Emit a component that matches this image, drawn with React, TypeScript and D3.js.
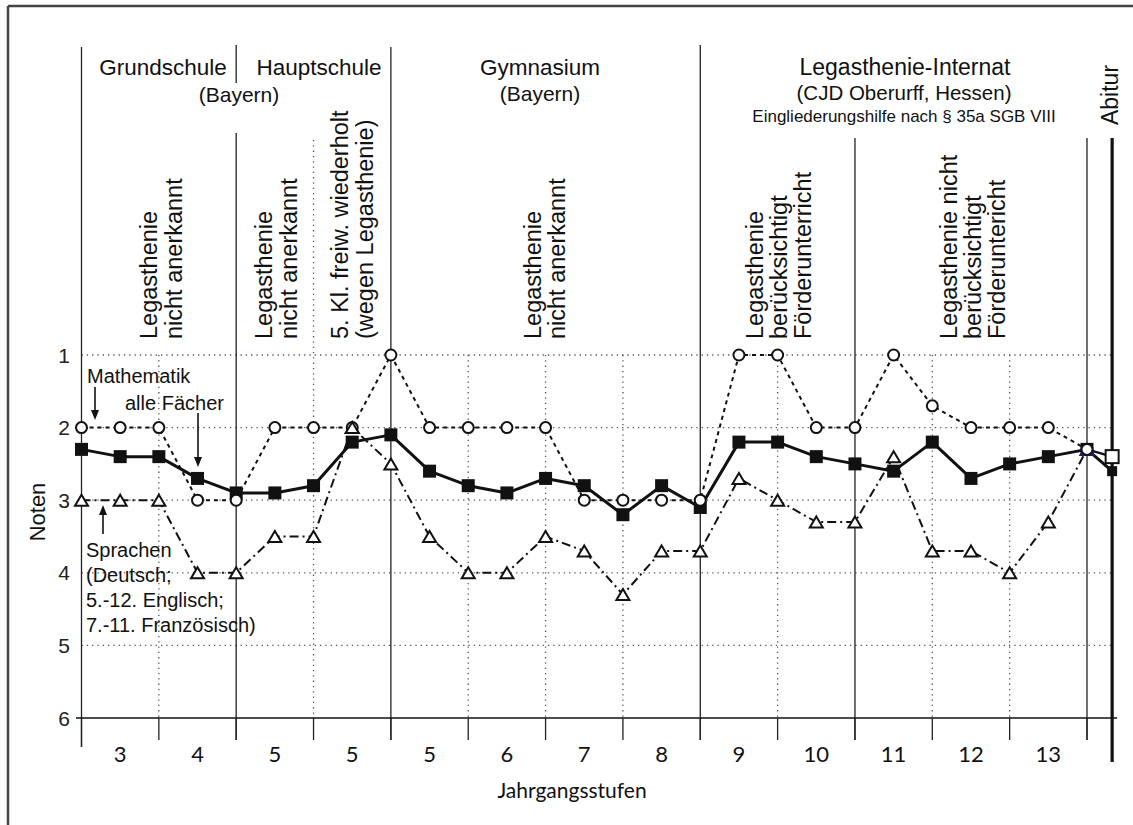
import React from "react";
import * as d3 from "d3";

// ---------- data ----------
const gradeLabels = ["3", "4", "5", "5", "5", "6", "7", "8", "9", "10", "11", "12", "13"];
const yTicks = [1, 2, 3, 4, 5, 6];
// half-year values (27 points, index 0..26)
const alleFaecher = [2.3, 2.4, 2.4, 2.7, 2.9, 2.9, 2.8, 2.2, 2.1, 2.6, 2.8, 2.9, 2.7, 2.8, 3.2, 2.8, 3.1, 2.2, 2.2, 2.4, 2.5, 2.6, 2.2, 2.7, 2.5, 2.4, 2.3];
const mathematik = [2, 2, 2, 3, 3, 2, 2, 2, 1, 2, 2, 2, 2, 3, 3, 3, 3, 1, 1, 2, 2, 1, 1.7, 2, 2, 2, 2.3];
const sprachen = [3, 3, 3, 4, 4, 3.5, 3.5, 2, 2.5, 3.5, 4, 4, 3.5, 3.7, 4.3, 3.7, 3.7, 2.7, 3, 3.3, 3.3, 2.4, 3.7, 3.7, 4, 3.3, 2.3];
const abiturAlle = 2.6;
const abiturMathe = 2.4;
const abiturPos = 26.65;
const dottedBounds = [2, 6, 10, 12, 14, 18, 22, 24];
const tickBounds = d3.range(0, 27, 2);

const W = 1133, H = 825;
const FONT = "'Liberation Sans', Arial, Helvetica, sans-serif";
const GFONT = "Lato, 'Open Sans', sans-serif";

const x = d3.scaleLinear().domain([0, 26]).range([81.5, 1087]);
const y = d3.scaleLinear().domain([1, 6]).range([355, 718]);

const line = d3.line<number>().x((_, i) => x(i)).y((d) => y(d));

const triPath = (w: number, h: number) => `M0,${-h / 2}L${w / 2},${h / 2}L${-w / 2},${h / 2}Z`;

function RotText({ bx, by, text, size = 23.5, anchor = "start" }: any) {
  return (
    <text transform={`translate(${bx},${by}) rotate(-90)`} textAnchor={anchor} fontSize={size} fontFamily={FONT} fill="#111">
      {text}
    </text>
  );
}

function Arrow({ x0, y0, x1, y1 }: any) {
  const dir = y1 > y0 ? 1 : -1;
  return (
    <g>
      <line x1={x0} y1={y0} x2={x1} y2={y1 - dir * 8} stroke="#111" strokeWidth={1.6} />
      <path d={`M${x1},${y1}L${x1 - 4},${y1 - dir * 10}L${x1 + 4},${y1 - dir * 10}Z`} fill="#111" />
    </g>
  );
}

export default function App() {
  const gridColor = "#555";
  return (
    <svg width={W} height={H} style={{ position: "absolute", left: 0, top: 0, background: "#fff" }}>
      {/* frame */}
      <line x1={8} y1={6} x2={W} y2={6} stroke="#444" strokeWidth={2.5} />
      <line x1={8} y1={6} x2={8} y2={H} stroke="#444" strokeWidth={2.5} />

      {/* horizontal dotted grid */}
      {yTicks.slice(0, 5).map((t) => (
        <line key={"h" + t} x1={x(0)} x2={x(abiturPos) + 2} y1={y(t)} y2={y(t)} stroke={gridColor} strokeWidth={1.3} strokeDasharray="1.3,4" />
      ))}
      {/* vertical dotted lines */}
      {dottedBounds.map((b) => (
        <line key={"vd" + b} x1={x(b)} x2={x(b)} y1={b === 6 ? 140 : y(1)} y2={y(6)} stroke={gridColor} strokeWidth={1.3} strokeDasharray="1.3,4" />
      ))}
      {/* vertical solid boundary lines */}
      <line x1={x(0)} x2={x(0)} y1={47} y2={747} stroke="#222" strokeWidth={1.3} />
      <line x1={x(4)} x2={x(4)} y1={45} y2={83} stroke="#222" strokeWidth={1.3} />
      <line x1={x(4)} x2={x(4)} y1={133} y2={740} stroke="#222" strokeWidth={1.3} />
      <line x1={x(8)} x2={x(8)} y1={47} y2={740} stroke="#222" strokeWidth={1.3} />
      <line x1={x(16)} x2={x(16)} y1={45} y2={740} stroke="#222" strokeWidth={1.3} />
      <line x1={x(20)} x2={x(20)} y1={138} y2={740} stroke="#222" strokeWidth={1.3} />
      <line x1={x(26)} x2={x(26)} y1={138} y2={740} stroke="#222" strokeWidth={1.3} />
      <line x1={x(abiturPos)} x2={x(abiturPos)} y1={138} y2={762} stroke="#111" strokeWidth={3.2} />

      {/* x axis line at 6 */}
      <line x1={76} x2={x(abiturPos) + 5} y1={y(6)} y2={y(6)} stroke="#111" strokeWidth={1.6} />
      {tickBounds.map((b) => (
        <line key={"t" + b} x1={x(b)} x2={x(b)} y1={y(6)} y2={b === 0 ? 747 : 740} stroke="#222" strokeWidth={1.3} />
      ))}
      {gradeLabels.map((g, i) => (
        <text key={"g" + i} x={x(2 * i + 1)} y={762} textAnchor="middle" fontSize={22} fontFamily={GFONT} fill="#111">
          {g}
        </text>
      ))}
      <text x={572} y={798} textAnchor="middle" fontSize={21} fontFamily={GFONT} fill="#111">
        Jahrgangsstufen
      </text>

      {/* y tick labels */}
      {yTicks.map((t) => (
        <text key={"y" + t} x={64} y={y(t) + 7.5} textAnchor="middle" fontSize={21} fontFamily={FONT} fill="#222">
          {t}
        </text>
      ))}
      <RotText bx={45} by={512} text="Noten" size={22} anchor="middle" />

      {/* headers */}
      <g fontFamily={FONT} fill="#111" textAnchor="middle">
        <text x={163} y={75} fontSize={22.5}>Grundschule</text>
        <text x={319} y={75} fontSize={22.5}>Hauptschule</text>
        <text x={239} y={102} fontSize={21}>(Bayern)</text>
        <text x={540} y={75} fontSize={22.5}>Gymnasium</text>
        <text x={540} y={101} fontSize={21}>(Bayern)</text>
        <text x={905} y={75} fontSize={23}>Legasthenie-Internat</text>
        <text x={904} y={100} fontSize={20.5}>(CJD Oberurff, Hessen)</text>
        <text x={904} y={122} fontSize={17}>Eingliederungshilfe nach § 35a SGB VIII</text>
      </g>
      <RotText bx={1118} by={95} text="Abitur" size={23} anchor="middle" />

      {/* rotated phase notes */}
      <RotText bx={157} by={339} text="Legasthenie" />
      <RotText bx={182} by={339} text="nicht anerkannt" />
      <RotText bx={272} by={339} text="Legasthenie" />
      <RotText bx={297} by={339} text="nicht anerkannt" />
      <RotText bx={348} by={339} text="5. Kl. freiw. wiederholt" />
      <RotText bx={373} by={339} text="(wegen Legasthenie)" />
      <RotText bx={541} by={339} text="Legasthenie" />
      <RotText bx={565} by={339} text="nicht anerkannt" />
      <RotText bx={763} by={339} text="Legasthenie" />
      <RotText bx={787} by={339} text="berücksichtigt" />
      <RotText bx={811} by={339} text="Förderunterricht" />
      <RotText bx={957} by={339} text="Legasthenie nicht" />
      <RotText bx={981} by={339} text="berücksichtigt" />
      <RotText bx={1005} by={339} text="Förderuntericht" />

      {/* series lines */}
      <path d={line(alleFaecher) || ""} fill="none" stroke="#111" strokeWidth={3} strokeLinejoin="round" />
      <line x1={x(26)} y1={y(alleFaecher[26])} x2={x(abiturPos)} y2={y(abiturAlle)} stroke="#111" strokeWidth={3} />
      <line x1={x(26)} y1={y(mathematik[26])} x2={x(abiturPos)} y2={y(abiturMathe)} stroke="#111" strokeWidth={2.2} />
      <path d={line(mathematik) || ""} fill="none" stroke="#111" strokeWidth={2} strokeDasharray="4,4" />
      <path d={line(sprachen) || ""} fill="none" stroke="#111" strokeWidth={2} strokeDasharray="9,4,2,4" />

      {/* markers */}
      {alleFaecher.map((v, i) => (
        <rect key={"s" + i} x={x(i) - 6.5} y={y(v) - 6.5} width={13} height={13} fill="#111" />
      ))}
      <rect x={x(abiturPos) - 5} y={y(abiturAlle) - 5} width={10} height={10} fill="#111" />
      <rect x={x(abiturPos) - 6.5} y={y(abiturMathe) - 6.5} width={13} height={13} fill="#fff" stroke="#111" strokeWidth={2} />
      {sprachen.map((v, i) => (
        <path key={"t" + i} d={triPath(13, 11)} transform={`translate(${x(i)},${y(v)})`} fill="#fff" stroke={i === 26 ? "#1c1c6a" : "#111"} strokeWidth={2} />
      ))}
      {mathematik.map((v, i) => (
        <circle key={"c" + i} cx={x(i)} cy={y(v)} r={5.5} fill="#fff" stroke="#111" strokeWidth={2} />
      ))}
      {/* triangle at index 7 sits on top of the circle */}
      <path d={triPath(13, 11)} transform={`translate(${x(7)},${y(sprachen[7])})`} fill="#fff" stroke="#111" strokeWidth={2} />

      {/* annotations */}
      <g fontFamily={FONT} fill="#111" fontSize={20}>
        <text x={87} y={383}>Mathematik</text>
        <text x={125} y={410}>alle Fächer</text>
        <text x={86} y={557}>Sprachen</text>
        <text x={86} y={582}>(Deutsch;</text>
        <text x={86} y={607}>5.-12. Englisch;</text>
        <text x={86} y={632}>7.-11. Französisch)</text>
      </g>
      <Arrow x0={95} y0={387} x1={95} y1={420} />
      <Arrow x0={198} y0={413} x1={198} y1={467} />
      <Arrow x0={103} y0={534} x1={103} y1={505} />
    </svg>
  );
}
